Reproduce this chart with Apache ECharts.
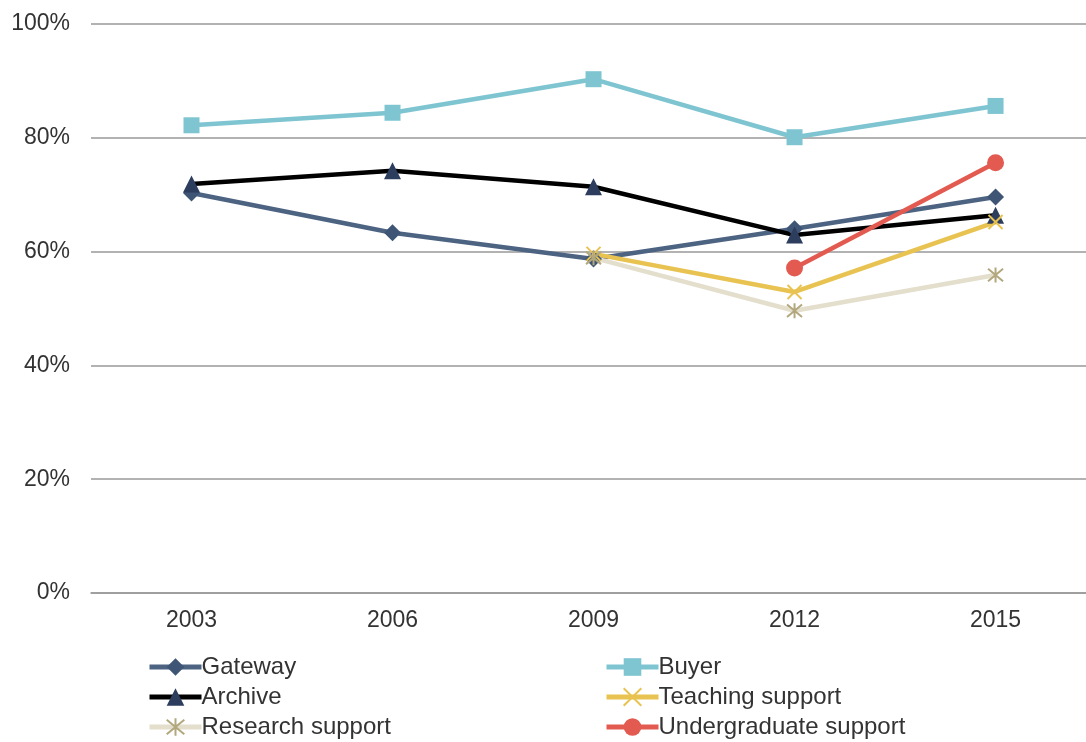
<!DOCTYPE html>
<html>
<head>
<meta charset="utf-8">
<script src="https://cdn.jsdelivr.net/npm/echarts@6/dist/echarts.min.js"></script>
<style>
  html, body { margin: 0; padding: 0; background: #fff; }
  #main { width: 1086px; height: 742px; }
</style>
</head>
<body>
<div id="main"></div>
<script>
const years = ['2003', '2006', '2009', '2012', '2015']
const gateway = [70.3, 63.3, 58.7, 64.0, 69.6]
const buyer = [82.2, 84.4, 90.3, 80.1, 85.6]
const archive = [71.9, 74.2, 71.4, 62.9, 66.4]
const teaching = [null, null, 59.6, 52.9, 65.2]
const research = [null, null, 58.9, 49.6, 55.9]
const undergrad = [null, null, null, 57.1, 75.6]

const xMark = 'path://M0,0L10,10M10,0L0,10'
const starMark = 'path://M0,0L10,10M10,0L0,10M5,-1L5,11'

const chart = echarts.init(document.getElementById('main'))

// the plot is cropped on the right, so x is a value axis over year indices
function pairs(data) {
  return data.map((v, i) => [i, v])
}

function line(name, data, color, symbol, size, markColor, extra) {
  return Object.assign({
    name,
    type: 'line',
    data: pairs(data),
    symbol,
    symbolSize: size,
    showSymbol: true,
    connectNulls: false,
    lineStyle: { color, width: 4.5 },
    itemStyle: { color: markColor || color },
    emphasis: { disabled: true }
  }, extra || {})
}

const legendBase = {
  orient: 'vertical',
  top: 654,
  padding: 0,
  itemWidth: 52,
  itemHeight: 22,
  itemGap: 4,
  lineStyle: { width: 5 },
  textStyle: { color: '#333', fontSize: 24, lineHeight: 26, padding: [0, 0, 0, -5] }
}

const option = {
  animation: false,
  textStyle: { fontFamily: 'Liberation Sans, Arial, sans-serif' },
  grid: { left: 91, top: 24, right: 0, height: 569, containLabel: false },
  xAxis: {
    type: 'value',
    min: -0.5,
    max: 4.45,
    interval: 0.5,
    axisLine: { show: true, lineStyle: { color: '#999', width: 1.5 } },
    axisTick: { show: false },
    splitLine: { show: false },
    axisLabel: {
      color: '#333', fontSize: 23, margin: 16,
      showMinLabel: false, showMaxLabel: false,
      formatter: v => Number.isInteger(v) ? years[v] : ''
    }
  },
  yAxis: {
    type: 'value',
    min: 0,
    max: 100,
    interval: 20,
    axisLine: { show: false },
    axisTick: { show: false },
    splitLine: { lineStyle: { color: '#999', width: 1.5 } },
    axisLabel: { color: '#333', fontSize: 23, margin: 21, formatter: '{value}%' }
  },
  legend: [
    Object.assign({ data: ['Gateway', 'Archive', 'Research support'], left: 147 }, legendBase),
    Object.assign({ data: ['Buyer', 'Teaching support', 'Undergraduate support'], left: 604 }, legendBase)
  ],
  series: [
    line('Gateway', gateway, '#4d6382', 'diamond', 17, '#3f5575'),
    line('Buyer', buyer, '#7ec5d1', 'rect', 16, '#7ec5d1'),
    line('Archive', archive, '#000000', 'triangle', 17, '#2d3d5e'),
    line('Teaching support', teaching, '#e8c352', xMark, 14, '#e8c352',
      { itemStyle: { color: 'none', borderColor: '#e8c352', borderWidth: 2 } }),
    line('Research support', research, '#e3dfcc', starMark, 15, '#b2a77d',
      { itemStyle: { color: 'none', borderColor: '#b2a77d', borderWidth: 2 } }),
    line('Undergraduate support', undergrad, '#e25a50', 'circle', 17, '#e25a50')
  ]
}

chart.setOption(option)
</script>
</body>
</html>
